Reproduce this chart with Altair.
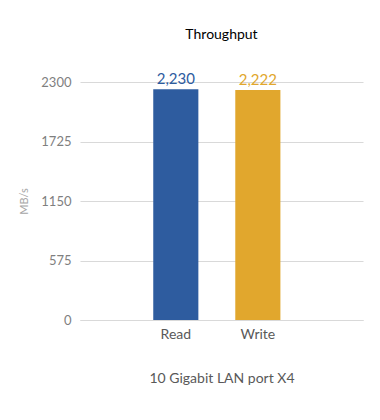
import altair as alt
import pandas as pd

categories = ["Read", "Write"]
values = [2230, 2222]
colors = ["#2E5C9F", "#E1A72D"]
y_ticks = [0, 575, 1150, 1725, 2300]

df = pd.DataFrame({"cat": categories, "val": values})

font = "Lato"
x = alt.X("cat:N", sort=categories,
          scale=alt.Scale(paddingInner=0.45, paddingOuter=0.95, align=0.47),
          axis=alt.Axis(title="10 Gigabit LAN port X4", labelAngle=0, ticks=False,
                        domainColor="#d9d9d9", labelColor="#595959", labelFontSize=14,
                        labelFont=font, labelPadding=7, titleFont=font, titleFontSize=14,
                        titleFontWeight="normal", titleColor="#595959", titlePadding=30))
y = alt.Y("val:Q", scale=alt.Scale(domain=[0, 2300], nice=False),
          axis=alt.Axis(title="MB/s", values=y_ticks, format="d", ticks=False, domain=False,
                        gridColor="#d9d9d9", labelColor="#7f7f7f", labelFontSize=13,
                        labelFont=font, labelPadding=9, titleFont=font, titleFontSize=11,
                        titleFontWeight="normal", titleColor="#a6a6a6", titlePadding=11))
color = alt.Color("cat:N", scale=alt.Scale(domain=categories, range=colors), legend=None)

bars = alt.Chart(df).mark_bar().encode(x=x, y=y, color=color)
labels = alt.Chart(df).mark_text(dy=-10, fontSize=15, font=font).encode(
    x=alt.X("cat:N", sort=categories), y="val:Q",
    text=alt.Text("val:Q", format=","), color=color)

chart = (bars + labels).properties(
    width=283, height=238,
    title=alt.TitleParams("Throughput", font=font, fontSize=14, fontWeight="normal",
                          color="#000000", offset=30),
    autosize=alt.AutoSizeParams(type="none"),
    padding={"left": 72, "top": 74, "right": 9, "bottom": 90},
).configure_view(stroke=None)

chart.save("out.html", embed_options={"renderer": "svg", "actions": False})
